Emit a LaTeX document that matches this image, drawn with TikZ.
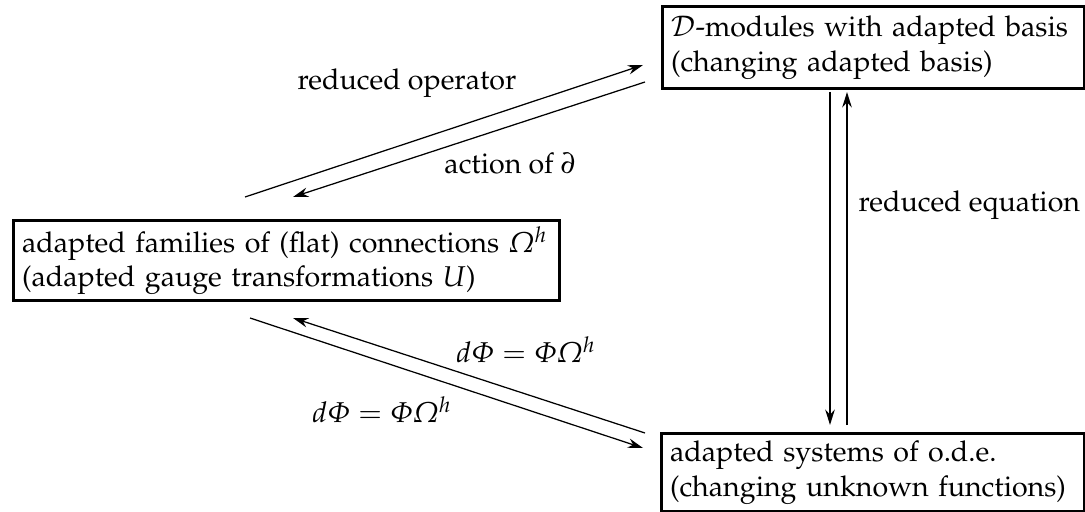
\documentclass[tikz,border=0pt]{standalone}
\usepackage[T1]{fontenc}
\usepackage[slantedGreek]{mathpazo}
\usetikzlibrary{arrows.meta}
\begin{document}
\begin{tikzpicture}[x=0.36pt,y=-0.36pt,
  every node/.style={font=\fontsize{10.3pt}{12.4pt}\selectfont},
  box/.style={draw,line width=1.2pt,align=left,anchor=north west,inner xsep=3pt,inner ysep=0pt},
  arr/.style={line width=0.45pt,-{Stealth[length=5.5pt,width=3.4pt]}},
  varr/.style={line width=1pt,-{Stealth[length=5.5pt,width=3.4pt]}},
  lbl/.style={inner sep=0pt}]
\useasboundingbox (0,0) rectangle (1085,512);
\node[box,text width=145.9pt,minimum height=29.5pt] (D) at (661,5)
  {$\mathcal{D}$-modules with adapted basis\\(changing adapted basis)};
\node[box,text width=190.6pt,minimum height=28.8pt] (F) at (12,219)
  {adapted families of (flat) connections $\Omega^h$\\(adapted gauge transformations $U$)};
\node[box,text width=146.3pt,minimum height=28pt] (S) at (660,432)
  {adapted systems of o.d.e.\\(changing unknown functions)};
% top pair
\coordinate (a1s) at (245,197); \coordinate (a1e) at (643,65);
\coordinate (a2s) at (645,82);  \coordinate (a2e) at (293,197);
\draw[arr] (a1s) -- (a1e);
\draw[arr] (a2s) -- (a2e);
% bottom pair
\coordinate (b1s) at (250,318); \coordinate (b1e) at (643,448);
\coordinate (b2s) at (645,433); \coordinate (b2e) at (293,318);
\draw[arr] (b1s) -- (b1e);
\draw[arr] (b2s) -- (b2e);
% vertical pair
\coordinate (v1s) at (830,92);  \coordinate (v1e) at (830,425);
\coordinate (v2s) at (847,425); \coordinate (v2e) at (847,92);
\draw[varr] (v1s) -- (v1e);
\draw[varr] (v2s) -- (v2e);
% labels
\node[lbl] (lro) at (407,83) {reduced operator};
\node[lbl] (lact) at (510,163) {action of $\partial$};
\node[lbl,anchor=west] (lred) at (858,205) {reduced equation};
\node[lbl] (leq1) at (526,350) {$d\Phi=\Phi\Omega^h$};
\node[lbl] (leq2) at (382,410) {$d\Phi=\Phi\Omega^h$};
\end{tikzpicture}
\end{document}
